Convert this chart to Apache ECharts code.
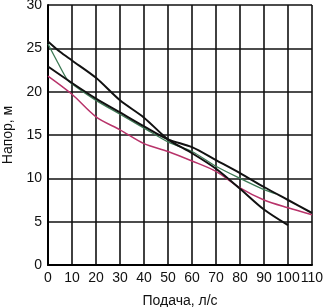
<!DOCTYPE html>
<html><head><meta charset="utf-8">
<script src="https://cdn.jsdelivr.net/npm/echarts@6/dist/echarts.min.js"></script>
<style>html,body{margin:0;padding:0;background:#fff}#c{width:330px;height:307px}</style>
</head><body><div id="c"></div>
<script>
var xTicks = [0,10,20,30,40,50,60,70,80,90,100,110];
var yTicks = [0,5,10,15,20,25,30];
var xA = [0,5,10,20,30,40,50,60,70,80,90,100];
var yA = [25.8,24.6,23.6,21.6,19.0,17.0,14.5,12.9,11.1,8.8,6.4,4.6];
var xB = [0,10,20,30,40,50,60,70,80,90,100,110];
var yB = [22.9,21.0,19.2,17.6,16.0,14.5,13.6,12.1,10.6,9.0,7.5,6.0];
var xG = [0,4,8,10,20,30,40,50,60,70,80,90,95];
var yG = [25.5,23.4,21.4,20.9,19.0,17.4,15.8,14.2,13.1,11.4,10.0,8.7,8.2];
var xP = [0,10,20,30,40,50,60,70,80,90,100,110];
var yP = [21.8,19.7,17.1,15.6,14.0,13.1,12.0,10.8,8.9,7.5,6.6,5.8];
function pairs(xs, ys){ return xs.map(function(x,i){return [x, ys[i]];}); }
var chart = echarts.init(document.getElementById('c'), null, {renderer:'canvas'});
var font = 'Liberation Sans, Arial, sans-serif';
chart.setOption({
  animation:false,
  grid:{left:48,right:18,top:5,bottom:42,containLabel:false,outerBoundsMode:'none'},
  xAxis:{type:'value',min:0,max:110,interval:10,
    name:'Подача, л/с',nameLocation:'middle',nameGap:29,
    nameTextStyle:{fontFamily:font,fontSize:14,color:'#111'},
    axisLine:{lineStyle:{color:'#000',width:2}},
    axisTick:{show:false},
    axisLabel:{fontFamily:font,fontSize:14,color:'#111',margin:6,
      formatter:function(v){return xTicks.indexOf(v)>=0?String(v):'';}},
    splitLine:{show:true,lineStyle:{color:'#111',width:1.6}}},
  yAxis:{type:'value',min:0,max:30,interval:5,
    name:'Напор, м',nameLocation:'middle',nameGap:30,
    nameTextStyle:{fontFamily:font,fontSize:14,color:'#111'},
    axisLine:{lineStyle:{color:'#000',width:2}},
    axisTick:{show:false},
    axisLabel:{fontFamily:font,fontSize:14,color:'#111',margin:6,
      formatter:function(v){return yTicks.indexOf(v)>=0?String(v):'';}},
    splitLine:{show:true,lineStyle:{color:'#111',width:1.6}}},
  series:[
    {type:'line',data:pairs(xP,yP),smooth:0.3,symbol:'none',lineStyle:{color:'#b8336a',width:1.5}},
    {type:'line',data:pairs(xG,yG),smooth:0.3,symbol:'none',lineStyle:{color:'#3d7a55',width:1.3}},
    {type:'line',data:pairs(xB,yB),smooth:0.3,symbol:'none',lineStyle:{color:'#111',width:2}},
    {type:'line',data:pairs(xA,yA),smooth:0.3,symbol:'none',lineStyle:{color:'#111',width:2}}
  ]
});
</script></body></html>
